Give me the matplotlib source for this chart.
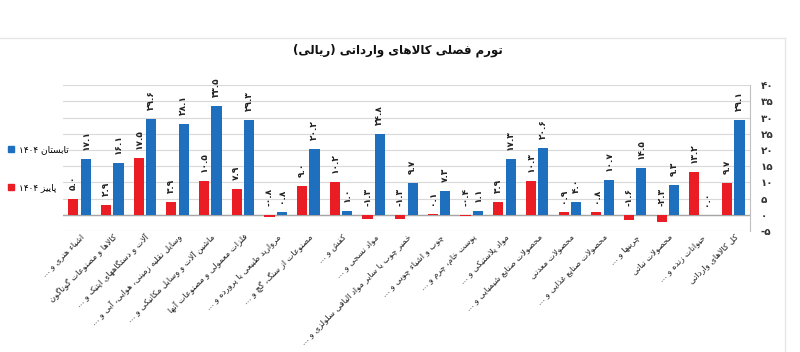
import re
import numpy as np
import matplotlib
matplotlib.use('Agg')
import matplotlib.pyplot as plt
from matplotlib.lines import Line2D
from matplotlib.patches import Patch

plt.rcParams['font.family'] = ['DejaVu Sans']

# ── Data ──────────────────────────────────────────────────────────────────────

TITLE = "تورم فصلی کالاهای وارداتی (ریالی)"

categories = [
    "اشیاء هنری و ...",
    "کالاها و مصنوعات گوناگون",
    "آلات و دستگاههای اپتیک و ...",
    "وسایل نقلیه زمینی، هوایی، آبی و ...",
    "ماشین آلات و وسایل مکانیکی و ...",
    "فلزات معمولی و مصنوعات آنها",
    "مروارید طبیعی یا پرورده و ...",
    "مصنوعات از سنگ، گچ و ...",
    "کفش و ...",
    "مواد نسجی و ...",
    "خمیر چوب یا سایر مواد الیافی سلولزی و ...",
    "چوب و اشیاء چوبی و ...",
    "پوست خام، چرم و ...",
    "مواد پلاستیکی و ...",
    "محصولات صنایع شیمیایی و ...",
    "محصولات معدنی",
    "محصولات صنایع غذایی و ...",
    "چربیها و ...",
    "محصولات نباتی",
    "حیوانات زنده و ...",
    "کل کالاهای وارداتی",
]

autumn_1404 = [5.0, 2.9, 17.5, 3.9, 10.5, 7.9, -0.8, 9.0, 10.2, -1.3, -1.3,
               0.1, -0.4, 3.9, 10.3, 0.9, 0.8, -1.6, -2.3, 13.2, 9.7]
summer_1404 = [17.1, 16.1, 29.6, 28.1, 33.5, 29.3, 0.8, 20.2, 1.0, 24.8, 9.7,
               7.3, 1.1, 17.3, 20.6, 4.0, 10.7, 14.5, 9.3, 0.0, 29.1]

series_names = ["پاییز ۱۴۰۴", "تابستان ۱۴۰۴"]
y_ticks = [-5, 0, 5, 10, 15, 20, 25, 30, 35, 40]

RED = '#EA1C24'
BLUE = '#1F6FBF'


# ── Persian text helpers (matplotlib has no shaping / bidi) ───────────────────

_FORMS = {
    'ا': (0xFE8D, 0xFE8E), 'آ': (0xFE81, 0xFE82), 'أ': (0xFE83, 0xFE84),
    'ء': (0xFE80,),
    'ب': (0xFE8F, 0xFE90, 0xFE91, 0xFE92),
    'پ': (0xFB56, 0xFB57, 0xFB58, 0xFB59),
    'ت': (0xFE95, 0xFE96, 0xFE97, 0xFE98),
    'ث': (0xFE99, 0xFE9A, 0xFE9B, 0xFE9C),
    'ج': (0xFE9D, 0xFE9E, 0xFE9F, 0xFEA0),
    'چ': (0xFB7A, 0xFB7B, 0xFB7C, 0xFB7D),
    'ح': (0xFEA1, 0xFEA2, 0xFEA3, 0xFEA4),
    'خ': (0xFEA5, 0xFEA6, 0xFEA7, 0xFEA8),
    'د': (0xFEA9, 0xFEAA), 'ذ': (0xFEAB, 0xFEAC),
    'ر': (0xFEAD, 0xFEAE), 'ز': (0xFEAF, 0xFEB0), 'ژ': (0xFB8A, 0xFB8B),
    'س': (0xFEB1, 0xFEB2, 0xFEB3, 0xFEB4),
    'ش': (0xFEB5, 0xFEB6, 0xFEB7, 0xFEB8),
    'ص': (0xFEB9, 0xFEBA, 0xFEBB, 0xFEBC),
    'ض': (0xFEBD, 0xFEBE, 0xFEBF, 0xFEC0),
    'ط': (0xFEC1, 0xFEC2, 0xFEC3, 0xFEC4),
    'ظ': (0xFEC5, 0xFEC6, 0xFEC7, 0xFEC8),
    'ع': (0xFEC9, 0xFECA, 0xFECB, 0xFECC),
    'غ': (0xFECD, 0xFECE, 0xFECF, 0xFED0),
    'ف': (0xFED1, 0xFED2, 0xFED3, 0xFED4),
    'ق': (0xFED5, 0xFED6, 0xFED7, 0xFED8),
    'ک': (0xFB8E, 0xFB8F, 0xFB90, 0xFB91),
    'گ': (0xFB92, 0xFB93, 0xFB94, 0xFB95),
    'ل': (0xFEDD, 0xFEDE, 0xFEDF, 0xFEE0),
    'م': (0xFEE1, 0xFEE2, 0xFEE3, 0xFEE4),
    'ن': (0xFEE5, 0xFEE6, 0xFEE7, 0xFEE8),
    'و': (0xFEED, 0xFEEE),
    'ه': (0xFEE9, 0xFEEA, 0xFEEB, 0xFEEC),
    'ی': (0xFBFC, 0xFBFD, 0xFBFE, 0xFBFF),
    'ئ': (0xFE89, 0xFE8A, 0xFE8B, 0xFE8C),
}
_LAMALEF = {'ا': (0xFEFB, 0xFEFC), 'آ': (0xFEF5, 0xFEF6)}
_NUM = r'[0-9۰-۹]+(?:\.[0-9۰-۹]+)?'


def _dual(c):
    return c in _FORMS and len(_FORMS[c]) == 4


def _joins(c):
    return c in _FORMS and len(_FORMS[c]) >= 2


def shape(text):
    out, i, n = [], 0, len(text)
    while i < n:
        c = text[i]
        prev = text[i - 1] if i > 0 else ''
        link_prev = _joins(c) and _dual(prev)
        if c == 'ل' and i + 1 < n and text[i + 1] in _LAMALEF:
            lig = _LAMALEF[text[i + 1]]
            out.append(chr(lig[1] if link_prev else lig[0]))
            i += 2
            continue
        if c not in _FORMS:
            out.append(c)
            i += 1
            continue
        f = _FORMS[c]
        nxt = text[i + 1] if i + 1 < n else ''
        link_next = _dual(c) and _joins(nxt)
        if len(f) == 1:
            out.append(chr(f[0]))
        elif link_prev and link_next:
            out.append(chr(f[3]))
        elif link_prev:
            out.append(chr(f[1]))
        elif link_next:
            out.append(chr(f[2]))
        else:
            out.append(chr(f[0]))
        i += 1
    return ''.join(out).replace('\u200c', '')


def rtl(text):
    """Shape and reorder a Persian string into visual (left-to-right) order."""
    parts = re.split('(' + _NUM + ')', shape(text))
    out = []
    for p in reversed(parts):
        if re.fullmatch(_NUM, p):
            out.append(p)
        else:
            out.append(p[::-1].translate(str.maketrans('()', ')(')))
    return ''.join(out)


def fa_num(v, fmt='{:.1f}'):
    return fmt.format(v).translate(str.maketrans('0123456789', '۰۱۲۳۴۵۶۷۸۹'))


# ── Plot ──────────────────────────────────────────────────────────────────────

fig = plt.figure(figsize=(8, 3.52), dpi=100)
fig.patch.set_facecolor('white')
ax = fig.add_axes([0.079, 0.344, 0.858, 0.414])

x = np.arange(len(categories))
w = 0.31
off = 0.19
b_red = ax.bar(x - off, autumn_1404, width=w, color=RED, zorder=3,
               label=rtl(series_names[0]))
b_blue = ax.bar(x + off, summer_1404, width=w, color=BLUE, zorder=3,
                label=rtl(series_names[1]))

for bars, vals in ((b_red, autumn_1404), (b_blue, summer_1404)):
    for rect, v in zip(bars, vals):
        ax.annotate(fa_num(v), (rect.get_x() + rect.get_width() / 2, max(v, 0)),
                    xytext=(0, 9), textcoords='offset pixels',
                    rotation=90, ha='center', va='bottom',
                    fontsize=6.5, fontweight='bold', color='#222222')

ax.set_xlim(-0.5, len(categories) - 0.5)
ax.set_ylim(-5, 40)
ax.set_yticks(y_ticks)
ax.set_yticklabels([fa_num(t, '{:d}') if t >= 0 else '-' + fa_num(-t, '{:d}')
                    for t in y_ticks], fontsize=7.5, fontweight='bold',
                   color='#333333')
ax.yaxis.tick_right()
ax.tick_params(axis='y', length=0, pad=8)

ax.set_xticks(x)
ax.set_xticklabels([rtl(c) for c in categories], rotation=45, ha='right',
                   va='top', rotation_mode='anchor', fontsize=6,
                   color='#222222')
ax.tick_params(axis='x', length=0, pad=1)

ax.grid(True, axis='y', color='#D9D9D9', linewidth=0.8, zorder=0)
ax.axhline(0, color='#A6A6A6', linewidth=1.0, zorder=2)
for s in ('left', 'top', 'bottom'):
    ax.spines[s].set_visible(False)
ax.spines['right'].set_color('#BFBFBF')
ax.spines['right'].set_linewidth(0.8)

fig.text(0.497, 0.858, rtl(TITLE), ha='center', va='center',
         fontsize=8.5, fontweight='bold', color='#111111')

handles = [Patch(color=BLUE), Patch(color=RED)]
fig.legend(handles, [rtl(series_names[1]), rtl(series_names[0])],
           loc='upper left', bbox_to_anchor=(0.0, 0.61), frameon=False,
           fontsize=6.5, handlelength=0.7, handleheight=0.7,
           handletextpad=0.5, labelspacing=3.2)

# chart area border
fig.add_artist(Line2D([0, 0.981], [0.892, 0.892], transform=fig.transFigure,
                      color='#E6E6E6', linewidth=1))
fig.add_artist(Line2D([0.981, 0.981], [0.0, 0.892], transform=fig.transFigure,
                      color='#E6E6E6', linewidth=1))

fig.savefig('out.png', dpi=100, facecolor='white')
